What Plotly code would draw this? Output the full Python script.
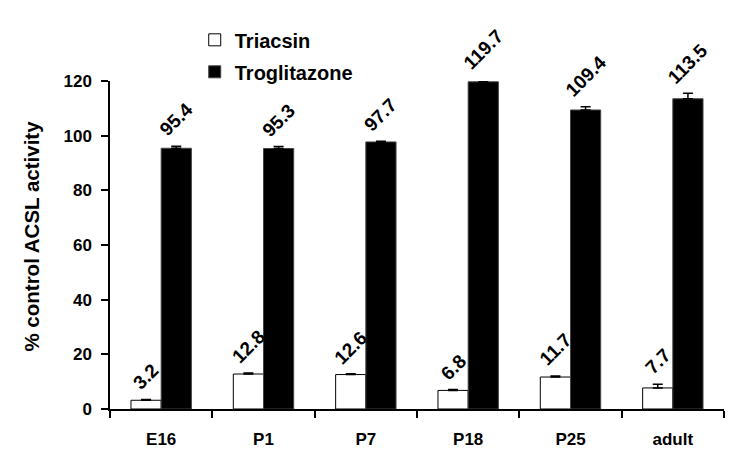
import plotly.graph_objects as go

categories = ["E16", "P1", "P7", "P18", "P25", "adult"]
triacsin = [3.2, 12.8, 12.6, 6.8, 11.7, 7.7]
triacsin_err = [0.3, 0.4, 0.3, 0.3, 0.4, 1.4]
troglitazone = [95.4, 95.3, 97.7, 119.7, 109.4, 113.5]
troglitazone_err = [0.7, 0.7, 0.3, 1.0, 1.2, 2.0]
y_ticks = [0, 20, 40, 60, 80, 100, 120]

FONT = "Liberation Sans, Arial, sans-serif"
Y_MAX = 120
PLOT_H = 330  # plot area height in px (470 - top - bottom margins)

fig = go.Figure()
fig.add_trace(go.Bar(
    name="Triacsin", x=categories, y=triacsin,
    marker=dict(color="white", line=dict(color="black", width=1)),
    error_y=dict(type="data", array=triacsin_err, arrayminus=[0]*len(triacsin_err),
                 symmetric=False, color="black", thickness=1.5, width=5),
    cliponaxis=False, legendgroup="a",
))
fig.add_trace(go.Bar(
    name="Troglitazone", x=categories, y=troglitazone,
    marker=dict(color="black", line=dict(color="#444444", width=1)),
    error_y=dict(type="data", array=troglitazone_err, arrayminus=[0]*len(troglitazone_err),
                 symmetric=False, color="black", thickness=1.5, width=5),
    cliponaxis=False, legendgroup="b",
))

annotations = []
for vals, errs, shift in ((triacsin, triacsin_err, -15), (troglitazone, troglitazone_err, 15)):
    for c, v, e in zip(categories, vals, errs):
        annotations.append(dict(
            x=c, y=v, xref="x", yref="y", text=f"{v:.1f}", showarrow=False,
            textangle=-45, xanchor="center", yanchor="bottom", xshift=shift,
            yshift=3 + e * PLOT_H / Y_MAX,
            font=dict(family=FONT, size=19, color="black", weight="bold"),
        ))
annotations.append(dict(
    x=-0.128, y=0.527, xref="paper", yref="paper", text="% control ACSL activity",
    showarrow=False, textangle=-90, xanchor="center", yanchor="middle",
    font=dict(family=FONT, size=20.5, color="black", weight="bold"),
))

fig.update_layout(
    width=753, height=470,
    margin=dict(l=102, r=37, t=71, b=69),
    paper_bgcolor="white", plot_bgcolor="white",
    barmode="group", bargap=0.41, bargroupgap=0,
    font=dict(family=FONT, color="black"),
    showlegend=True,
    legend=dict(x=0.138, y=1.185, xanchor="left", yanchor="top",
                traceorder="grouped", tracegroupgap=3,
                font=dict(family=FONT, size=20, color="black", weight="bold"),
                bgcolor="rgba(0,0,0,0)"),
    annotations=annotations,
)
fig.update_xaxes(
    showline=True, linecolor="black", linewidth=1.5,
    ticks="outside", tickson="boundaries", ticklen=7, tickwidth=1.5, tickcolor="black",
    ticklabelstandoff=14, showgrid=False,
    tickfont=dict(family=FONT, size=17, color="black", weight="bold"),
)
fig.update_yaxes(
    range=[0, Y_MAX], tickvals=y_ticks, showline=True, linecolor="black", linewidth=1.5,
    ticks="outside", ticklen=7, tickwidth=1.5, tickcolor="black",
    ticklabelstandoff=6, showgrid=False, zeroline=False,
    tickfont=dict(family=FONT, size=17, color="black", weight="bold"),
)

fig.write_html("out.html")
